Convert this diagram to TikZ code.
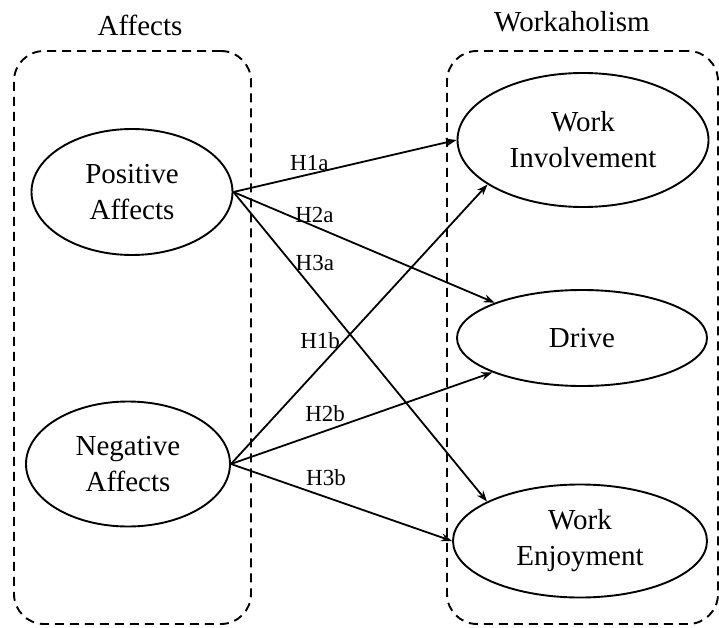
\documentclass[tikz,border=0pt]{standalone}
\usepackage{fontspec}
\setmainfont{Liberation Serif}
\usetikzlibrary{shapes.geometric,arrows.meta}

\begin{document}
\begin{tikzpicture}[x=1pt,y=-1pt,
	construct/.style={draw,ellipse,line width=1.9pt,inner sep=0pt,align=center,font=\fontsize{29}{36}\selectfont},
	groupbox/.style={draw,rectangle,rounded corners=30pt,dash pattern=on 9pt off 6pt,line width=1.9pt,inner sep=0pt},
	grouptitle/.style={font=\fontsize{29}{36}\selectfont},
	hyp/.style={-{Stealth[length=11pt,width=8pt]},line width=1.8pt},
	hlabel/.style={font=\fontsize{23}{26}\selectfont,inner sep=3pt}]
	\useasboundingbox (0,0) rectangle (719,628);
	% the two groups
	\node[groupbox,minimum width=237pt,minimum height=573pt] (affBox) at (132.5,337.5) {};
	\node[groupbox,minimum width=271pt,minimum height=573pt] (workBox) at (582.5,337.5) {};
	\node[grouptitle] (affTitle) at (140,25) {Affects};
	\node[grouptitle] (workTitle) at (572,22) {Workaholism};
	% constructs
	\node[construct,minimum width=201pt,minimum height=126pt] (posAff) at (132,192) {Positive\\Affects};
	\node[construct,minimum width=204pt,minimum height=125pt] (negAff) at (128,464) {Negative\\Affects};
	\node[construct,minimum width=251pt,minimum height=134pt] (workInv) at (583,140) {Work\\Involvement};
	\node[construct,minimum width=250pt,minimum height=96pt] (drive) at (582,338) {Drive};
	\node[construct,minimum width=254pt,minimum height=113pt] (workEnj) at (580,541) {Work\\Enjoyment};
	% hypotheses
	\draw[hyp] (posAff.east) -- (workInv.west) node[pos=0.34,above,hlabel] {H1a};
	\draw[hyp] (posAff.east) -- (drive.158) node[pos=0.31,above,hlabel] {H2a};
	\draw[hyp] (posAff.east) -- (workEnj.157) node[pos=0.23,right,hlabel] {H3a};
	\draw[hyp] (negAff.east) -- (workInv.205) node[pos=0.44,left,hlabel] {H1b};
	\draw[hyp] (negAff.east) -- (drive.201) node[pos=0.36,above,hlabel,yshift=5pt] {H2b};
	\draw[hyp] (negAff.east) -- (workEnj.west) node[pos=0.43,above,hlabel,yshift=7pt] {H3b};
\end{tikzpicture}
\end{document}
